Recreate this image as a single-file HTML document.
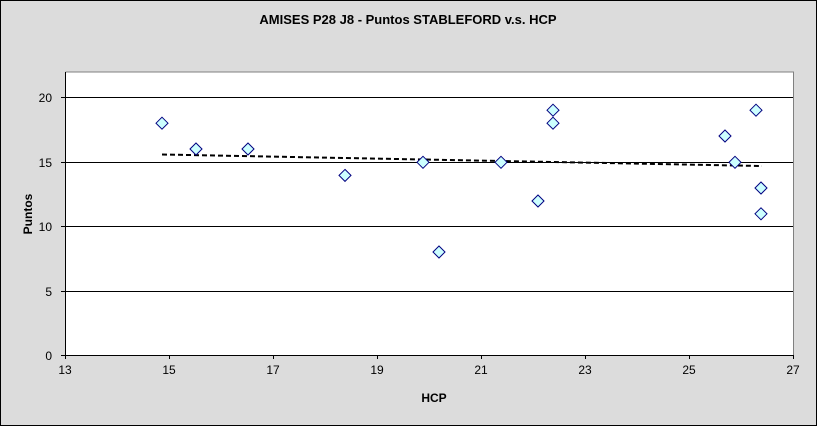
<!DOCTYPE html>
<html><head><style>body{margin:0}svg{display:block}</style></head><body>
<svg width="817" height="426" xmlns="http://www.w3.org/2000/svg" font-family="Liberation Sans, Arial, sans-serif">
<rect x="0.5" y="0.5" width="816" height="425" fill="#dcdcdc" stroke="#000"/>
<text x="408" y="24" text-anchor="middle" font-size="13" font-weight="bold">AMISES P28 J8 - Puntos STABLEFORD v.s. HCP</text>
<rect x="65" y="72" width="728" height="283" fill="#fff"/>
<g stroke="#000" stroke-width="1">
<line x1="65" y1="97.5" x2="793" y2="97.5"/>
<line x1="65" y1="162.5" x2="793" y2="162.5"/>
<line x1="65" y1="226.5" x2="793" y2="226.5"/>
<line x1="65" y1="291.5" x2="793" y2="291.5"/>
</g>
<polyline points="65.5,72 793.5,72 793.5,355" fill="none" stroke="#808080"/>
<polyline points="65.5,72 65.5,355.5 793.5,355.5" fill="none" stroke="#000"/>
<g stroke="#000">
<line x1="61" y1="97.5" x2="65" y2="97.5"/><line x1="61" y1="162.5" x2="65" y2="162.5"/><line x1="61" y1="226.5" x2="65" y2="226.5"/><line x1="61" y1="291.5" x2="65" y2="291.5"/><line x1="61" y1="355.5" x2="65" y2="355.5"/>
<line x1="65.5" y1="355" x2="65.5" y2="359"/><line x1="169.5" y1="355" x2="169.5" y2="359"/><line x1="273.5" y1="355" x2="273.5" y2="359"/><line x1="377.5" y1="355" x2="377.5" y2="359"/><line x1="481.5" y1="355" x2="481.5" y2="359"/><line x1="585.5" y1="355" x2="585.5" y2="359"/><line x1="689.5" y1="355" x2="689.5" y2="359"/><line x1="793.5" y1="355" x2="793.5" y2="359"/>
</g>
<g font-size="12" text-anchor="end">
<text x="52" y="102">20</text><text x="52" y="167">15</text><text x="52" y="231">10</text><text x="52" y="296">5</text><text x="52" y="360">0</text>
</g>
<g font-size="12" text-anchor="middle">
<text x="65" y="374">13</text><text x="169" y="374">15</text><text x="273" y="374">17</text><text x="377" y="374">19</text><text x="481" y="374">21</text><text x="585" y="374">23</text><text x="689" y="374">25</text><text x="793" y="374">27</text>
</g>
<text x="434" y="402" text-anchor="middle" font-size="12" font-weight="bold">HCP</text>
<text transform="translate(32,214) rotate(-90)" text-anchor="middle" font-size="12" font-weight="bold">Puntos</text>
<line x1="162" y1="154.5" x2="762" y2="166" stroke="#000" stroke-width="2" stroke-dasharray="5,3"/>
<g fill="#ccffff" stroke="#000080" stroke-width="1">
<path d="M0,-6 L6,0 L0,6 L-6,0Z" transform="translate(162,123.2)"/>
<path d="M0,-6 L6,0 L0,6 L-6,0Z" transform="translate(196,149)"/>
<path d="M0,-6 L6,0 L0,6 L-6,0Z" transform="translate(248,149)"/>
<path d="M0,-6 L6,0 L0,6 L-6,0Z" transform="translate(345,175.4)"/>
<path d="M0,-6 L6,0 L0,6 L-6,0Z" transform="translate(423,162.3)"/>
<path d="M0,-6 L6,0 L0,6 L-6,0Z" transform="translate(439,252)"/>
<path d="M0,-6 L6,0 L0,6 L-6,0Z" transform="translate(501,162.3)"/>
<path d="M0,-6 L6,0 L0,6 L-6,0Z" transform="translate(538,201)"/>
<path d="M0,-6 L6,0 L0,6 L-6,0Z" transform="translate(553,110.2)"/>
<path d="M0,-6 L6,0 L0,6 L-6,0Z" transform="translate(553,123.2)"/>
<path d="M0,-6 L6,0 L0,6 L-6,0Z" transform="translate(725,136)"/>
<path d="M0,-6 L6,0 L0,6 L-6,0Z" transform="translate(735,162.3)"/>
<path d="M0,-6 L6,0 L0,6 L-6,0Z" transform="translate(756,110.2)"/>
<path d="M0,-6 L6,0 L0,6 L-6,0Z" transform="translate(761,188)"/>
<path d="M0,-6 L6,0 L0,6 L-6,0Z" transform="translate(761,213.8)"/>
</g>
</svg>
</body></html>
